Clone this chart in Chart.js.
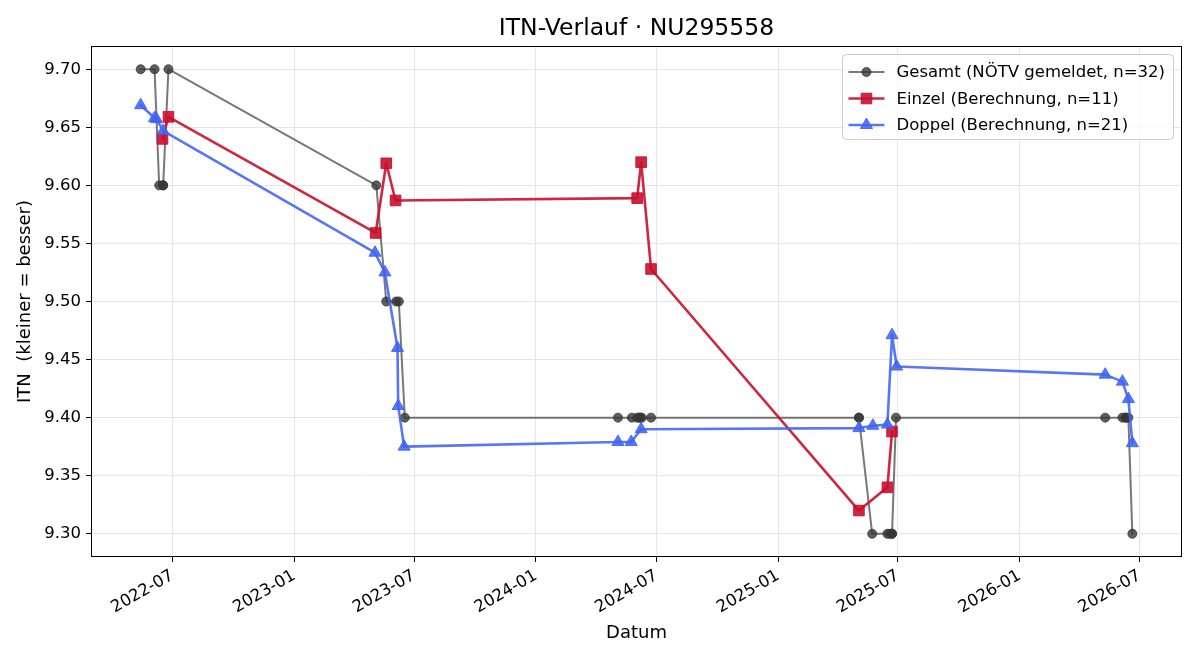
<!DOCTYPE html>
<html><head><meta charset="utf-8">
<script src="https://cdn.jsdelivr.net/npm/chart.js@4.4.1/dist/chart.umd.min.js"></script>
<style>html,body{margin:0;padding:0;background:#fff;}canvas{display:block;}</style>
</head><body>
<canvas id="c" width="1200" height="660"></canvas>
<script>
const chartTitle = 'ITN-Verlauf · NU295558';
const xAxisTitle = 'Datum';
const yAxisTitle = 'ITN  (kleiner = besser)';

const gesamtDates = ['2022-05-14','2022-06-04','2022-06-11','2022-06-17','2022-06-17','2022-06-25',
  '2023-05-05','2023-05-20','2023-06-04','2023-06-08','2023-06-17',
  '2024-05-04','2024-05-25','2024-06-02','2024-06-06','2024-06-06','2024-06-09','2024-06-23',
  '2025-05-03','2025-05-03','2025-05-23','2025-06-15','2025-06-19','2025-06-22','2025-06-22','2025-06-28',
  '2026-05-10','2026-06-05','2026-06-10','2026-06-10','2026-06-14','2026-06-20'];
const gesamtValues = [9.70,9.70,9.60,9.60,9.60,9.70,
  9.60,9.50,9.50,9.50,9.40,
  9.40,9.40,9.40,9.40,9.40,9.40,9.40,
  9.40,9.40,9.30,9.30,9.30,9.30,9.30,9.40,
  9.40,9.40,9.40,9.40,9.40,9.30];

const einzelDates = ['2022-06-16','2022-06-25','2023-05-04','2023-05-20','2023-06-03',
  '2024-06-02','2024-06-08','2024-06-23','2025-05-03','2025-06-15','2025-06-22'];
const einzelValues = [9.640,9.659,9.559,9.619,9.587,9.589,9.620,9.528,9.320,9.340,9.388];

const doppelDates = ['2022-05-14','2022-06-04','2022-06-07','2022-06-17',
  '2023-05-03','2023-05-18','2023-06-06','2023-06-07','2023-06-16',
  '2024-05-04','2024-05-24','2024-06-08',
  '2025-05-03','2025-05-24','2025-06-15','2025-06-22','2025-06-29',
  '2026-05-10','2026-06-05','2026-06-14','2026-06-20'];
const doppelValues = [9.669,9.658,9.657,9.647,
  9.542,9.525,9.460,9.410,9.375,
  9.379,9.379,9.390,
  9.391,9.393,9.394,9.471,9.444,
  9.437,9.431,9.416,9.378];

const xTickLabels = ['2022-07','2023-01','2023-07','2024-01','2024-07','2025-01','2025-07','2026-01','2026-07'];
const yTickValues = [9.30,9.35,9.40,9.45,9.50,9.55,9.60,9.65,9.70];
const xRange = ['2022-02-28','2026-09-03'];
const yRange = [9.28, 9.72];

const FONT = "'DejaVu Sans', sans-serif";
const toTime = s => Date.parse(s.length === 7 ? s + '-01T00:00:00Z' : s + 'T00:00:00Z');
const pts = (dates, vals) => dates.map((d, i) => ({x: toTime(d), y: vals[i]}));

const frame = {
  id: 'frame',
  afterDatasetsDraw(chart) {
    const {ctx, chartArea: a} = chart;
    ctx.save();
    ctx.strokeStyle = '#000';
    ctx.lineWidth = 1;
    ctx.strokeRect(Math.round(a.left) + 0.5, Math.round(a.top) + 0.5,
      Math.round(a.right) - Math.round(a.left) - 1, Math.round(a.bottom) - Math.round(a.top) - 1);
    ctx.restore();
  }
};

const titlePlugin = {
  id: 'plotTitle',
  afterDraw(chart) {
    const {ctx, chartArea: a} = chart;
    ctx.save();
    ctx.font = '23.5px ' + FONT;
    ctx.fillStyle = '#000';
    ctx.textAlign = 'center';
    ctx.textBaseline = 'middle';
    ctx.fillText(chartTitle, (a.left + a.right) / 2, a.top - 17);
    ctx.restore();
  }
};

function marker(ctx, style, x, y, r) {
  ctx.beginPath();
  if (style === 'circle') {
    ctx.arc(x, y, r, 0, Math.PI * 2);
  } else if (style === 'rect') {
    const s = r * Math.SQRT1_2;
    ctx.rect(x - s, y - s, 2 * s, 2 * s);
  } else if (style === 'triangle') {
    ctx.moveTo(x, y - r);
    ctx.lineTo(x + Math.sin(2 * Math.PI / 3) * r, y + r / 2);
    ctx.lineTo(x - Math.sin(2 * Math.PI / 3) * r, y + r / 2);
    ctx.closePath();
  }
  ctx.fill();
  ctx.stroke();
}

const legendBox = {
  id: 'legendBox',
  afterDraw(chart) {
    const {ctx, chartArea: a} = chart;
    const ds = chart.data.datasets;
    ctx.save();
    ctx.font = '16.5px ' + FONT;
    let maxW = 0;
    ds.forEach(d => { maxW = Math.max(maxW, ctx.measureText(d.label).width); });
    const w = 54 + maxW + 8, h = 85;
    const right = a.right - 9, top = a.top + 8, left = right - w;
    ctx.beginPath();
    ctx.roundRect(Math.round(left) + 0.5, top + 0.5, Math.round(w), h, 4);
    ctx.fillStyle = 'rgba(255,255,255,0.8)';
    ctx.fill();
    ctx.strokeStyle = '#cccccc';
    ctx.lineWidth = 1;
    ctx.stroke();
    ds.forEach((d, i) => {
      const cy = top + 18 + i * 26.5;
      ctx.strokeStyle = d.borderColor;
      ctx.lineWidth = d.borderWidth;
      ctx.beginPath();
      ctx.moveTo(left + 6, cy);
      ctx.lineTo(left + 42, cy);
      ctx.stroke();
      ctx.fillStyle = d.pointBackgroundColor;
      ctx.strokeStyle = d.pointBorderColor;
      ctx.lineWidth = d.pointBorderWidth;
      marker(ctx, d.pointStyle, left + 24, cy, d.pointRadius);
      ctx.fillStyle = '#000';
      ctx.textBaseline = 'middle';
      ctx.textAlign = 'left';
      ctx.fillText(d.label, left + 54, cy + 1);
    });
    ctx.restore();
  }
};

function mkSet(label, dates, vals, color, pcolor, width, style, radius, order) {
  return {
    label, data: pts(dates, vals),
    borderColor: color, backgroundColor: color, borderWidth: width,
    borderJoinStyle: 'round', borderCapStyle: 'round',
    pointStyle: style, pointRadius: radius, pointBackgroundColor: pcolor,
    pointBorderColor: pcolor, pointBorderWidth: 1, tension: 0, order
  };
}

new Chart(document.getElementById('c'), {
  type: 'line',
  data: {
    datasets: [
      mkSet(`Gesamt (NÖTV gemeldet, n=${gesamtValues.length})`, gesamtDates, gesamtValues,
        'rgba(68,68,68,0.72)', 'rgba(55,55,55,0.8)', 2, 'circle', 4.5, 3),
      mkSet(`Einzel (Berechnung, n=${einzelValues.length})`, einzelDates, einzelValues,
        'rgba(200,16,46,0.9)', 'rgba(200,16,46,0.9)', 2.6, 'rect', 7.5, 2),
      mkSet(`Doppel (Berechnung, n=${doppelValues.length})`, doppelDates, doppelValues,
        'rgba(65,100,240,0.88)', 'rgba(65,100,240,0.88)', 2.6, 'triangle', 7, 1)
    ]
  },
  options: {
    responsive: false, animation: false, events: [],
    layout: {padding: {left: 0, right: 18, top: 46, bottom: 0}},
    plugins: {
      legend: {display: false}, tooltip: {enabled: false}, title: {display: false}
    },
    scales: {
      x: {
        type: 'linear', min: toTime(xRange[0]), max: toTime(xRange[1]),
        afterBuildTicks: s => { s.ticks = xTickLabels.map(l => ({value: toTime(l)})); },
        afterFit: s => { s.height = 103; },
        ticks: {autoSkip: false, minRotation: 30, maxRotation: 30, color: '#000', padding: 4,
          font: {family: FONT, size: 16.5},
          callback: (v, i) => xTickLabels[i]},
        grid: {color: '#e6e6e6', lineWidth: 1, drawTicks: true, tickLength: 5, tickColor: '#000', tickWidth: 1},
        border: {display: false},
        title: {display: true, text: xAxisTitle, color: '#000', font: {family: FONT, size: 18, lineHeight: 1.2}, padding: {top: 0, bottom: 16}}
      },
      y: {
        type: 'linear', min: yRange[0], max: yRange[1],
        afterBuildTicks: s => { s.ticks = yTickValues.map(v => ({value: v})); },
        afterFit: s => { s.width = 91; },
        ticks: {color: '#000', padding: 5, font: {family: FONT, size: 16.5},
          callback: v => Number(v).toFixed(2)},
        grid: {color: '#e6e6e6', lineWidth: 1, drawTicks: true, tickLength: 5, tickColor: '#000', tickWidth: 1},
        border: {display: false},
        title: {display: true, text: yAxisTitle, color: '#000', font: {family: FONT, size: 18, lineHeight: 1.2}, padding: {top: 15, bottom: 0}}
      }
    }
  },
  plugins: [frame, titlePlugin, legendBox]
});
</script>
</body></html>
